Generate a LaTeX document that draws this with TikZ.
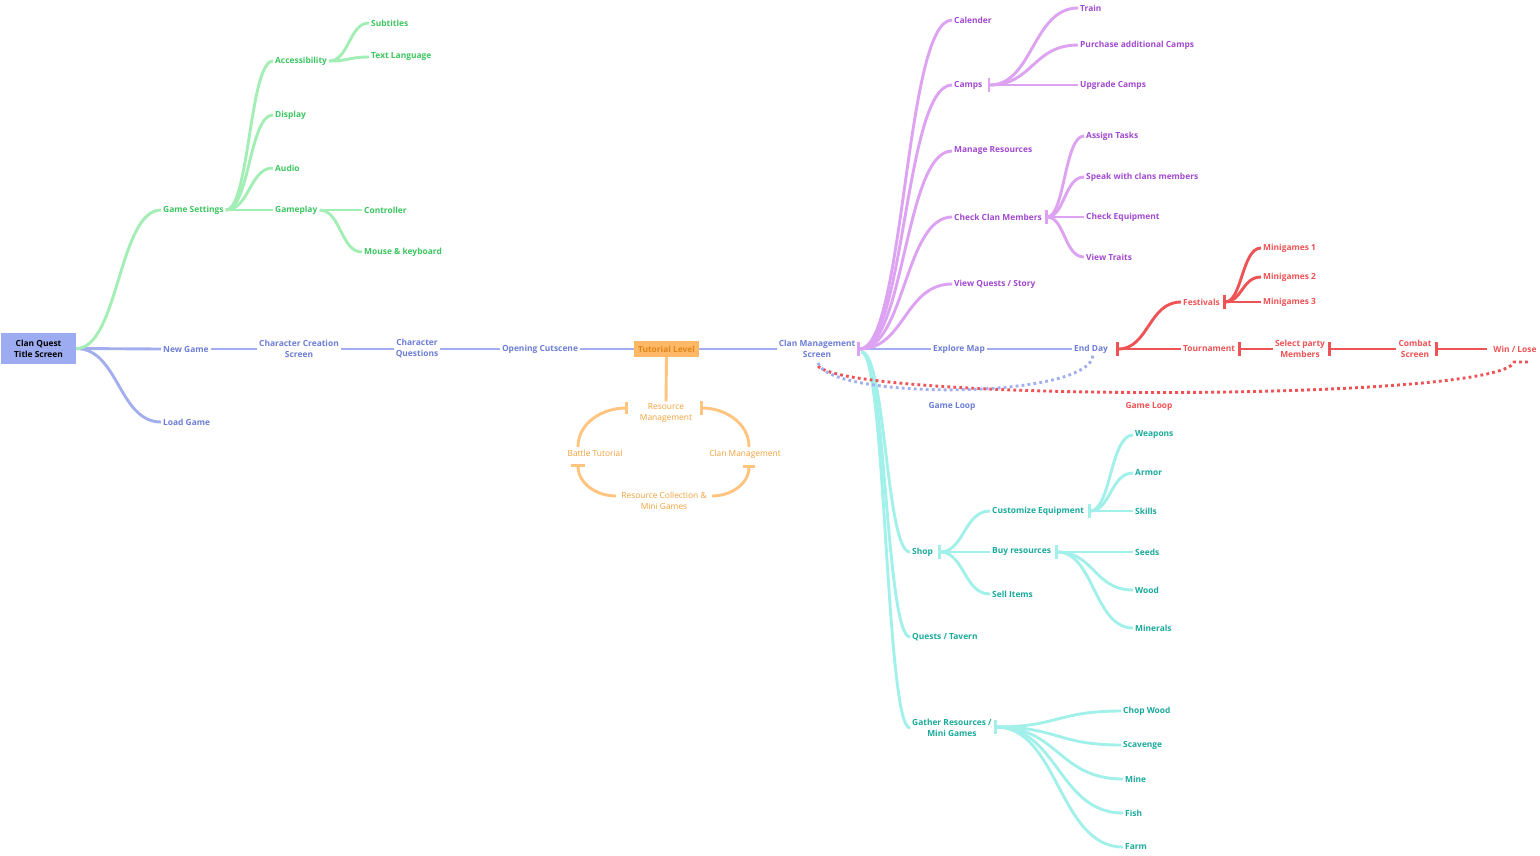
\documentclass[tikz,border=0pt]{standalone}
\usepackage{fontspec}
\setmainfont{Open Sans}
\usetikzlibrary{calc,arrows.meta}
\definecolor{bl}{HTML}{A3AEEE}
\definecolor{blt}{HTML}{6D7ED6}
\definecolor{gr}{HTML}{A2EEB4}
\definecolor{grt}{HTML}{3CC660}
\definecolor{pu}{HTML}{DDA2F2}
\definecolor{put}{HTML}{A24AD0}
\definecolor{rd}{HTML}{EE5356}
\definecolor{te}{HTML}{A2F0EA}
\definecolor{tet}{HTML}{1AAA9C}
\definecolor{orl}{HTML}{FFC47E}
\definecolor{ort}{HTML}{F2A23C}
\definecolor{tbox}{HTML}{FFB866}
\definecolor{tboxt}{HTML}{E0861A}
\definecolor{titlebox}{HTML}{9DACF0}
\tikzset{
  lbl/.style={font=\fontsize{8.4}{11}\selectfont\bfseries, align=center, inner sep=2pt},
  bn/.style={lbl,text=blt},
  gn/.style={lbl,text=grt,anchor=west},
  pn/.style={lbl,text=put,anchor=west},
  rn/.style={lbl,text=rd},
  tn/.style={lbl,text=tet,anchor=west},
  on/.style={font=\fontsize{8.4}{11}\selectfont, align=center, inner sep=2pt, text=ort},
  ln/.style={line width=2.9pt},
  bline/.style={ln,draw=bl},
  gline/.style={ln,draw=gr},
  pline/.style={ln,draw=pu},
  rline/.style={ln,draw=rd},
  tline/.style={ln,draw=te},
  oline/.style={ln,draw=orl},
  bs/.style={arrows={Bar[width=14pt]-}},
  be/.style={arrows={-Bar[width=12pt]}},
  sc/.style={to path={let \p1=(\tikztostart), \p2=(\tikztotarget) in
     .. controls ({0.5*\x1+0.5*\x2},\y1) and ({0.5*\x1+0.5*\x2},\y2) .. (\tikztotarget)}},
  loop/.style={line width=2.9pt, dash pattern=on 2.8pt off 3.2pt},
}
\begin{document}
\begin{tikzpicture}[x=1pt,y=-1pt]
\useasboundingbox (0,0) rectangle (1540,855);
\fill[white] (0,0) rectangle (1540,855);

% ---------- main chain ----------
\node[fill=titlebox, minimum width=75pt, minimum height=31pt, font=\fontsize{8.4}{11}\selectfont\bfseries, align=center, inner sep=1pt] (title) at (38.5,348.5) {Clan Quest\\Title Screen};
\node[bn,anchor=west] (ng) at (161,349) {New Game};
\node[bn,anchor=west] (lg) at (161,422) {Load Game};
\node[bn] (ccs) at (299,349) {Character Creation\\Screen};
\node[bn] (cq) at (417,349) {Character\\Questions};
\node[bn] (oc) at (540,349) {Opening Cutscene};
\node[fill=tbox, text=tboxt, font=\fontsize{8.4}{11}\selectfont\bfseries, minimum width=65pt, minimum height=16pt, inner sep=1pt] (tl) at (666.5,349) {Tutorial Level};
\node[bn] (cms) at (817,349) {Clan Management\\Screen};
\node[bn] (em) at (959,349) {Explore Map};
\node[bn] (ed) at (1091,349) {End Day};

\draw[bline] (title.east) -- (ng.west);
\draw[bline] (title.east) to[sc] (lg.west);
\draw[bline] (ng.east) -- (ccs.west);
\draw[bline] (ccs.east) -- (cq.west);
\draw[bline] (cq.east) -- (oc.west);
\draw[bline] (oc.east) -- (tl.west);
\draw[bline] (tl.east) -- (cms.west);
\draw[bline] (cms.east) -- (em.west);
\draw[bline] (em.east) -- (ed.west);

% ---------- green: game settings ----------
\node[gn] (gs) at (161,210) {Game Settings};
\node[gn] (acc) at (273,61) {Accessibility};
\node[gn] (disp) at (273,115) {Display};
\node[gn] (aud) at (273,168) {Audio};
\node[gn] (gp) at (273,210) {Gameplay};
\node[gn] (sub) at (369,23) {Subtitles};
\node[gn] (tlang) at (369,57) {Text Language};
\node[gn] (ctrl) at (362,210) {Controller};
\node[gn] (mk) at (362,252) {Mouse \& keyboard};

\draw[gline] (title.east) to[sc] (gs.west);
\foreach \c in {acc,disp,aud,gp} \draw[gline] (gs.east) to[sc] (\c.west);
\foreach \c in {sub,tlang} \draw[gline] (acc.east) to[sc] (\c.west);
\foreach \c in {ctrl,mk} \draw[gline] (gp.east) to[sc] (\c.west);

% ---------- purple ----------
\node[pn] (cal) at (952,20) {Calender};
\node[pn] (camps) at (952,85) {Camps};
\node[pn] (mr) at (952,151) {Manage Resources};
\node[pn] (ccm) at (952,217) {Check Clan Members};
\node[pn] (vq) at (952,284) {View Quests / Story};
\node[pn] (train) at (1078,8) {Train};
\node[pn] (pac) at (1078,45) {Purchase additional Camps};
\node[pn] (uc) at (1078,85) {Upgrade Camps};
\node[pn] (at) at (1084,136) {Assign Tasks};
\node[pn] (sw) at (1084,177) {Speak with clans members};
\node[pn] (ce) at (1084,217) {Check Equipment};
\node[pn] (vt) at (1084,257) {View Traits};

\foreach \c in {cal,camps,mr,ccm,vq} \draw[pline,bs] (cms.east) to[sc] (\c.west);
\foreach \c in {train,pac,uc} \draw[pline,bs] ([xshift=3pt]camps.east) to[sc] (\c.west);
\foreach \c in {at,sw,ce,vt} \draw[pline,bs] ([xshift=1pt]ccm.east) to[sc] (\c.west);

% ---------- red ----------
\node[rn,anchor=west] (fest) at (1181,302) {Festivals};
\node[rn,anchor=west] (mg1) at (1261,248) {Minigames 1};
\node[rn,anchor=west] (mg2) at (1261,277) {Minigames 2};
\node[rn,anchor=west] (mg3) at (1261,302) {Minigames 3};
\node[rn,anchor=west] (tour) at (1181,349) {Tournament};
\node[rn] (spm) at (1300,349) {Select party\\Members};
\node[rn] (cs) at (1415,349) {Combat\\Screen};
\node[rn] (wl) at (1515,349) {Win / Lose};

\draw[rline,bs] ([xshift=6pt]ed.east) to[sc] (fest.west);
\draw[rline,bs] ([xshift=6pt]ed.east) -- (tour.west);
\foreach \c in {mg1,mg2,mg3} \draw[rline,bs] ([xshift=1pt]fest.east) to[sc] (\c.west);
\draw[rline,bs] ([xshift=1pt]tour.east) -- (spm.west);
\draw[rline,bs] ([xshift=1pt]spm.east) -- (cs.west);
\draw[rline,bs] ([xshift=1pt]cs.east) -- ([xshift=-4pt]wl.west);

% ---------- teal ----------
\node[tn] (shop) at (910,552) {Shop};
\node[tn] (qt) at (910,637) {Quests / Tavern};
\node[tn] (gr) at (910,728) {Gather Resources /\\Mini Games};
\node[tn] (cus) at (990,511) {Customize Equipment};
\node[tn] (buy) at (990,552) {Buy resources};
\node[tn] (sell) at (990,594) {Sell Items};
\node[tn] (wea) at (1133,435) {Weapons};
\node[tn] (arm) at (1133,473) {Armor};
\node[tn] (ski) at (1133,511) {Skills};
\node[tn] (see) at (1133,552) {Seeds};
\node[tn] (woo) at (1133,590) {Wood};
\node[tn] (min) at (1133,628) {Minerals};
\node[tn] (cw) at (1121,711) {Chop Wood};
\node[tn] (sca) at (1121,745) {Scavenge};
\node[tn] (mine) at (1123,779) {Mine};
\node[tn] (fish) at (1123,813) {Fish};
\node[tn] (farm) at (1123,847) {Farm};

\coordinate (cmst) at ($(cms.east)+(4,3)$);
\foreach \c in {shop,qt,gr} \draw[tline] (cmst) to[sc] (\c.west);
\foreach \c in {cus,buy,sell} \draw[tline,bs] ([xshift=3pt]shop.east) to[sc] (\c.west);
\foreach \c in {wea,arm,ski} \draw[tline,bs] ([xshift=2pt]cus.east) to[sc] (\c.west);
\foreach \c in {see,woo,min} \draw[tline,bs] ([xshift=2pt]buy.east) to[sc] (\c.west);
\coordinate (grs) at ($(gr.east)+(0,-1)$);
\foreach \c in {cw,sca,mine,fish,farm} \draw[tline,bs] (grs) to[sc] (\c.west);

% ---------- orange tutorial cycle ----------
\node[on] (rm) at (666,413) {Resource\\Management};
\node[on] (btut) at (595,453) {Battle Tutorial};
\node[on] (cm2) at (745,454) {Clan Management};
\node[on] (rc) at (664,501) {Resource Collection \&\\Mini Games};
\draw[oline] (tl.south) -- (rm.north);
\coordinate (rmL) at (628,408);
\coordinate (rmR) at (700,408);
\coordinate (btT) at (578,447);
\coordinate (btB) at (578,464);
\coordinate (cmT) at (749,447);
\coordinate (cmB) at (749,465);
\coordinate (rcL) at (616,496);
\coordinate (rcR) at (712,496);
\draw[oline,be] (btT) to[out=90,in=180] (rmL);
\draw[oline,bs] (rmR) to[out=0,in=90] (cmT);
\draw[oline,bs] (btB) to[out=-90,in=180] (rcL);
\draw[oline,be] (rcR) to[out=0,in=-90] (cmB);

% ---------- game loops ----------
\coordinate (lpA) at (818,363);
\coordinate (lpB) at (1093,355);
\coordinate (lpC) at (818,366);
\coordinate (lpD) at (1514,362);
\coordinate (lpE) at (1530,362);
\draw[loop, draw=rd] (lpC) .. controls (850,402) and (1500,402) .. (lpD) -- (lpE);
\draw[loop, draw=bl] (lpA) .. controls (830,400) and (1090,400) .. (lpB);
\node[bn] (gl1) at (952,406) {Game Loop};
\node[rn] (gl2) at (1149,406) {Game Loop};
\end{tikzpicture}
\end{document}
